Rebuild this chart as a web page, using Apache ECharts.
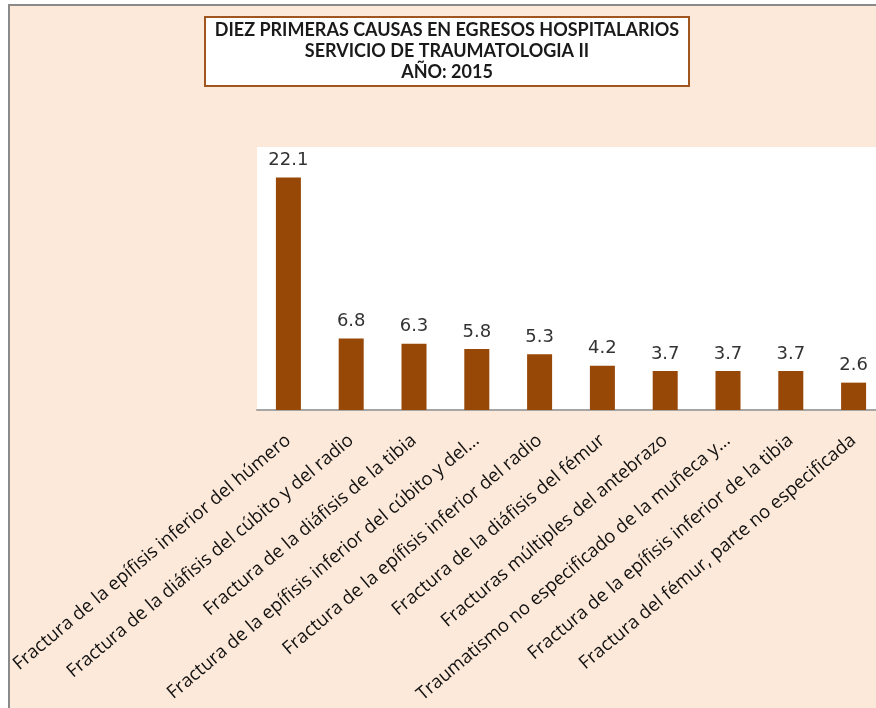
<!DOCTYPE html>
<html>
<head>
<meta charset="utf-8">
<script src="https://cdn.jsdelivr.net/npm/echarts@6/dist/echarts.min.js"></script>
<style>
  html, body { margin: 0; padding: 0; background: #fff; overflow: hidden; }
  #chart {
    position: absolute; left: 8px; top: 4px;
    width: 890px; height: 720px;
    border-left: 2px solid #8a8a8a; border-top: 2px solid #8a8a8a;
    background: #FDE9D9;
  }
</style>
</head>
<body>
<div id="chart"></div>
<script>
// causas (texto tal como aparece en el eje)
const categories = [
  'Fractura de la epífisis inferior del húmero',
  'Fractura de la diáfisis del cúbito y del radio',
  'Fractura de la diáfisis de la tibia',
  'Fractura de la epífisis inferior del cúbito y del…',
  'Fractura de la epífisis inferior del radio',
  'Fractura de la diáfisis del fémur',
  'Fracturas múltiples del antebrazo',
  'Traumatismo no especificado de la muñeca y…',
  'Fractura de la epífisis inferior de la tibia',
  'Fractura del fémur, parte no especificada'
]
const values = [22.1, 6.8, 6.3, 5.8, 5.3, 4.2, 3.7, 3.7, 3.7, 2.6]
const titleLines = [
  'DIEZ PRIMERAS CAUSAS EN EGRESOS HOSPITALARIOS',
  'SERVICIO DE TRAUMATOLOGIA II',
  'AÑO: 2015'
]

const myChart = echarts.init(document.getElementById('chart'))
const barColor = '#974706'

myChart.setOption({
  animation: false,
  title: {
    text: titleLines.join('\n'),
    left: 427,
    top: 11,
    textAlign: 'center',
    backgroundColor: '#fff',
    borderColor: '#A0561E',
    borderWidth: 2,
    padding: [3, 10, 3, 10],
    textStyle: {
      fontFamily: 'Lato',
      fontWeight: 'bold',
      fontSize: 18,
      lineHeight: 21,
      color: '#1a1a1a'
    }
  },
  grid: {
    left: 247,
    top: 141,
    right: 15,
    bottom: 316,
    outerBoundsMode: 'none',
    show: true,
    backgroundColor: '#fff',
    borderWidth: 0
  },
  xAxis: {
    type: 'category',
    data: categories,
    axisLine: { lineStyle: { color: '#a6a6a6', width: 2 } },
    axisTick: { show: false },
    axisLabel: {
      interval: 0,
      rotate: 40,
      margin: 28,
      fontFamily: 'Open Sans',
      fontSize: 18.5,
      color: '#111'
    }
  },
  yAxis: {
    type: 'value',
    min: 0,
    max: 25,
    show: false,
    splitLine: { show: false }
  },
  series: [{
    type: 'bar',
    data: values,
    barWidth: 25,
    itemStyle: { color: barColor },
    label: {
      show: true,
      position: 'top',
      distance: 8,
      fontFamily: 'DejaVu Sans',
      fontSize: 18,
      color: '#333'
    }
  }]
})
</script>
</body>
</html>
